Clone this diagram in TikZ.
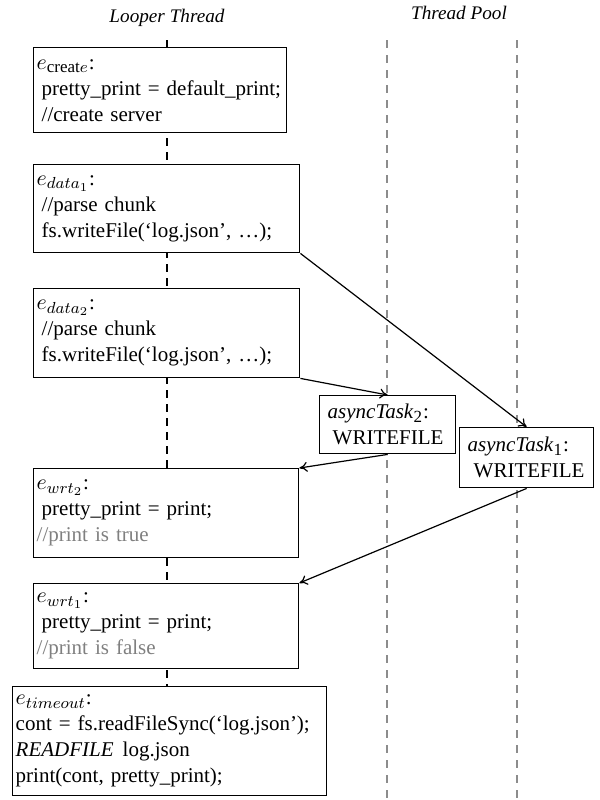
\documentclass[tikz,border=0pt]{standalone}
\usepackage{fontspec}
\setmainfont{Liberation Serif}
\usetikzlibrary{arrows.meta}

% larger sub- and subsubscripts for the event names
\DeclareMathSizes{10.5}{11}{8.5}{6.5}

\definecolor{commentgray}{RGB}{128,128,128}
\definecolor{poolgray}{RGB}{140,140,140}

\newcommand{\ind}{\hspace*{2.5pt}}
\newcommand{\cmt}[1]{\textcolor{commentgray}{#1}}

\begin{document}
\begin{tikzpicture}[x=0.5pt, y=-0.5pt, >={To[length=4pt,width=5pt]},
    line cap=butt, line join=miter,
    font=\fontsize{10.5}{13}\selectfont,
    evbox/.style={draw, fill=white, line width=0.7pt, anchor=north west,
      align=left, inner xsep=1.5pt, inner ysep=0pt},
    taskbox/.style={evbox, inner xsep=4pt},
    lifeline/.style={line width=1pt, dash pattern=on 4pt off 3pt},
    poolline/.style={poolgray, line width=0.7pt, dash pattern=on 4pt off 3.5pt},
    msg/.style={->, line width=0.6pt},
    title/.style={font=\fontsize{9.6}{11}\selectfont\itshape}]

  % page frame
  \useasboundingbox (0,0) rectangle (600,800);

  % lane titles
  \node[title] (looper) at (167,18) {Looper Thread};
  \node[title] (pool) at (459,13) {Thread Pool};

  % lifelines (drawn first, boxes sit on top)
  \coordinate (lt top) at (167,40);
  \coordinate (lt end) at (167,686);
  \coordinate (pa top) at (387,40);
  \coordinate (pa end) at (387,800);
  \coordinate (pb top) at (517,40);
  \coordinate (pb end) at (517,800);
  \draw[lifeline] (lt top) -- (lt end);
  \draw[poolline] (pa top) -- (pa end);
  \draw[poolline] (pb top) -- (pb end);

  % events on the looper thread
  \node[evbox, text width=123.5pt, minimum height=42.5pt] (create) at (33,47)
    {$e_{\mathrm{creat}e}$:\\ \ind pretty\_print = default\_print;\\ \ind//create server};
  \node[evbox, text width=130pt, minimum height=44pt] (data1) at (33,164)
    {$e_{data_1}$:\\ \ind//parse chunk\\ \ind fs.writeFile(`log.json', \ldots);};
  \node[evbox, text width=130pt, minimum height=44.5pt] (data2) at (33,288)
    {$e_{data_2}$:\\ \ind//parse chunk\\ \ind fs.writeFile(`log.json', \ldots);};
  \node[evbox, text width=129.5pt, minimum height=44.5pt] (wrt2) at (33,468)
    {$e_{wrt_2}$:\\ \ind pretty\_print = print;\\ \cmt{//print is true}};
  \node[evbox, text width=129.5pt, minimum height=42.5pt] (wrt1) at (33,583)
    {$e_{wrt_1}$:\\ \ind pretty\_print = print;\\ \cmt{//print is false}};
  \node[evbox, text width=154pt, minimum height=54.5pt] (timeout) at (12,686)
    {$e_{timeout}$:\\ cont = fs.readFileSync(`log.json');\\
     \textit{READFILE}\hspace{4.5pt}log.json\\ print(cont, pretty\_print);};

  % tasks in the pool
  \node[taskbox, text width=60pt, minimum height=29pt] (task2) at (319,395)
    {\textit{asyncTask}\textsubscript{2}:\\ \ind\mbox{WRITEFILE}};
  \node[taskbox, text width=59pt, minimum height=30pt] (task1) at (459,427)
    {\textit{asyncTask}\textsubscript{1}:\\ \hspace*{3pt}\mbox{WRITEFILE}};

  % posting and completion
  \draw[msg] (data1.south east) -- (task1.north);
  \draw[msg] (data2.south east) -- (task2.north);
  \draw[msg] (task2.south) -- (wrt2.north east);
  \draw[msg] (task1.south) -- (wrt1.north east);

\end{tikzpicture}
\end{document}
